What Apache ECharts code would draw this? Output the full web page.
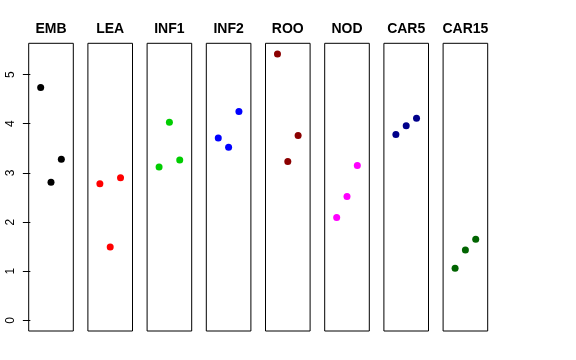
<!DOCTYPE html>
<html>
<head>
<meta charset="utf-8">
<script src="https://cdn.jsdelivr.net/npm/echarts@6/dist/echarts.min.js"></script>
<style>html,body{margin:0;padding:0;background:#fff;}#c{width:576px;height:360px;}</style>
</head>
<body>
<div id="c"></div>
<script>
const categories = ['EMB', 'LEA', 'INF1', 'INF2', 'ROO', 'NOD', 'CAR5', 'CAR15'];
const xPositions = [1, 2, 3];
const EMB = [4.74, 2.81, 3.28];
const LEA = [2.78, 1.49, 2.90];
const INF1 = [3.12, 4.03, 3.26];
const INF2 = [3.71, 3.52, 4.25];
const ROO = [5.42, 3.23, 3.76];
const NOD = [2.09, 2.52, 3.15];
const CAR5 = [3.78, 3.96, 4.11];
const CAR15 = [1.06, 1.43, 1.65];
const yTicks = [0, 1, 2, 3, 4, 5];

const seriesValues = [EMB, LEA, INF1, INF2, ROO, NOD, CAR5, CAR15];
const colors = ['#000000', '#FF0000', '#00CD00', '#0000FF', '#8B0000', '#FF00FF', '#00008B', '#006400'];

// R-style 4% range extension
const yMin = 0, yMax = 5.42;
const yExt = (yMax - yMin) * 0.04;
const xMin = 0, xMax = 4;
const xExt = (xMax - xMin) * 0.04;

const panelLeft = 28.7, panelStep = 59.2, panelWidth = 44.6, panelTop = 43.3, panelHeight = 287.7;

const grids = [], xAxes = [], yAxes = [], series = [], titles = [];
categories.forEach((cat, i) => {
  const left = panelLeft + panelStep * i;
  grids.push({
    left: left, top: panelTop, width: panelWidth, height: panelHeight,
    show: true, borderColor: '#000', borderWidth: 1, backgroundColor: 'transparent'
  });
  xAxes.push({
    type: 'value', gridIndex: i, min: xMin - xExt, max: xMax + xExt,
    show: false
  });
  yAxes.push({
    type: 'value', gridIndex: i, min: yMin - yExt, max: yMax + yExt,
    show: i === 0,
    axisLine: { show: false },
    splitLine: { show: false },
    axisTick: { show: true, customValues: yTicks, length: 7.5, lineStyle: { color: '#000', width: 1 } },
    axisLabel: {
      show: true, customValues: yTicks, rotate: 90, margin: 12,
      fontSize: 12, color: '#000', fontFamily: 'Liberation Sans, Arial, sans-serif',
      formatter: v => String(v)
    }
  });
  series.push({
    type: 'scatter', xAxisIndex: i, yAxisIndex: i,
    data: xPositions.map((x, k) => [x, seriesValues[i][k]]),
    symbol: 'circle', symbolSize: 7,
    itemStyle: { color: colors[i], opacity: 1 },
    silent: true, animation: false
  });
  titles.push({
    text: cat, left: left + panelWidth / 2, top: 22, textAlign: 'center', padding: 0,
    textStyle: { fontSize: 14, fontWeight: 'bold', color: '#000', fontFamily: 'Liberation Sans, Arial, sans-serif' }
  });
});

const chart = echarts.init(document.getElementById('c'), null, { renderer: 'canvas' });
chart.setOption({
  animation: false,
  backgroundColor: '#fff',
  title: titles,
  grid: grids,
  xAxis: xAxes,
  yAxis: yAxes,
  series: series
});
</script>
</body>
</html>
